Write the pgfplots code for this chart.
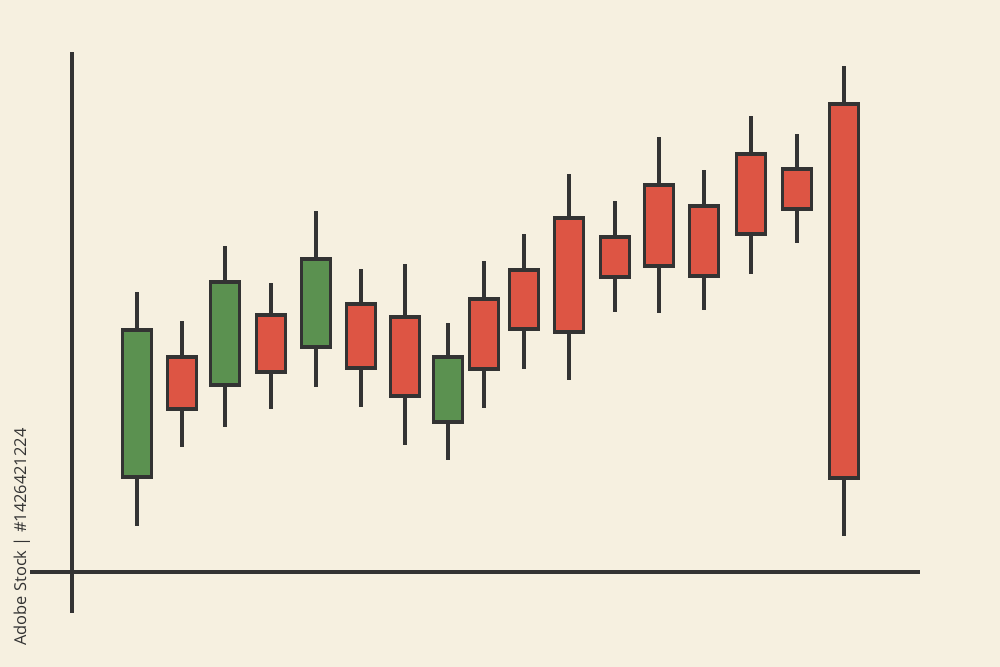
\documentclass[border=0pt]{standalone}
\usepackage{pgfplots}
\pgfplotsset{compat=1.18}
\usepackage{pgfplotstable}
\usepgfplotslibrary{statistics}
\usepackage{fontspec}
\setmainfont{Open Sans}

\definecolor{paper}{RGB}{246,240,224}
\definecolor{ink}{RGB}{51,51,51}
\definecolor{bull}{RGB}{91,145,80}
\definecolor{bear}{RGB}{221,85,68}

% one row per candle: position, low, body bottom, body top, high, 1 = green
\pgfplotstableread{
x   lo  bot top hi  up
65  46  95  242 280 1
110 125 163 215 251 0
153 145 187 290 326 1
199 163 200 257 289 0
244 185 225 313 361 1
289 165 204 268 303 0
333 127 176 255 308 0
376 112 150 215 249 1
412 164 203 273 311 0
452 203 243 302 338 0
497 192 240 354 398 0
543 260 295 335 371 0
587 259 306 387 435 0
632 262 296 366 402 0
679 298 338 418 456 0
725 329 363 403 438 0
772 36  94  468 506 0
}\candles

\begin{document}
\begin{tikzpicture}
\begin{axis}[
    scale only axis,
    width=15cm, height=10.005cm,
    xmin=-72, xmax=928,
    ymin=-95, ymax=572,
    axis line style={draw=none},
    ticks=none,
    axis background/.style={fill=paper},
    candle0/.style={draw=ink, fill=bear, line width=1.3pt},
    candle1/.style={draw=ink, fill=bull, line width=1.3pt},
    boxplot/draw direction=y,
    boxplot/box extend=29,
    boxplot/whisker extend=0,
]
% hand-drawn looking axes
\addplot[ink, line width=1.3pt] coordinates {(-42,0) (848,0)};
\addplot[ink, line width=1.3pt] coordinates {(0,-41) (0,520)};

\pgfplotstablegetrowsof{\candles}
\pgfmathtruncatemacro\lastrow{\pgfplotsretval-1}
\pgfplotsforeachungrouped \i in {0,...,\lastrow}{
    \pgfplotstablegetelem{\i}{x}\of\candles \let\candX\pgfplotsretval
    \pgfplotstablegetelem{\i}{lo}\of\candles \let\candLo\pgfplotsretval
    \pgfplotstablegetelem{\i}{bot}\of\candles \let\candBot\pgfplotsretval
    \pgfplotstablegetelem{\i}{top}\of\candles \let\candTop\pgfplotsretval
    \pgfplotstablegetelem{\i}{hi}\of\candles \let\candHi\pgfplotsretval
    \pgfplotstablegetelem{\i}{up}\of\candles \let\candUp\pgfplotsretval
    \edef\candleplot{\noexpand\addplot[candle\candUp, boxplot prepared={
        draw position=\candX, lower whisker=\candLo, lower quartile=\candBot,
        median=\candBot, upper quartile=\candTop, upper whisker=\candHi}]
        coordinates {};}
    \candleplot
}

\node[rotate=90, text=ink, font=\fontsize{7}{8}\selectfont]
    at (axis cs:-50,35) {Adobe Stock | \#1426421224};
\end{axis}
\end{tikzpicture}
\end{document}
